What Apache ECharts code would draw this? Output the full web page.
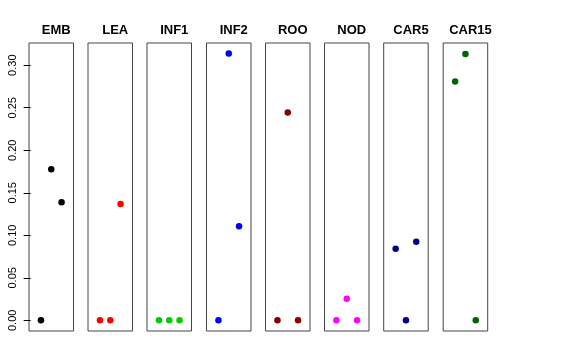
<!DOCTYPE html>
<html>
<head>
<meta charset="utf-8">
<script src="https://cdn.jsdelivr.net/npm/echarts@6/dist/echarts.min.js"></script>
<style>html,body{margin:0;padding:0;background:#fff;}#c{width:576px;height:360px;}</style>
</head>
<body>
<div id="c"></div>
<script>
const panels = ['EMB','LEA','INF1','INF2','ROO','NOD','CAR5','CAR15'];
const colors = ['#000000','#FF0000','#00CD00','#0000FF','#8B0000','#FF00FF','#00008B','#006400'];
const xPositions = [1, 2, 3];
const EMB   = [0.0, 0.1776, 0.1388];
const LEA   = [0.0, 0.0, 0.1369];
const INF1  = [0.0, 0.0, 0.0];
const INF2  = [0.0, 0.3137, 0.1106];
const ROO   = [0.0, 0.2443, 0.0];
const NOD   = [0.0, 0.0255, 0.0];
const CAR5  = [0.0843, 0.0, 0.0925];
const CAR15 = [0.2808, 0.3133, 0.0];
const values = [EMB, LEA, INF1, INF2, ROO, NOD, CAR5, CAR15];
const yTicks = [0, 0.05, 0.10, 0.15, 0.20, 0.25, 0.30];
const yTickLabels = ['0.00','0.05','0.10','0.15','0.20','0.25','0.30'];

const yMin = -0.01254, yMax = 0.3261;
const lefts = [29, 88, 147, 206.5, 265.5, 324.5, 383.7, 443.2];
const W = 44.5, TOP = 43, H = 288;

const grids = [], xAxes = [], yAxes = [], series = [], titles = [];
panels.forEach((p, i) => {
  grids.push({left: lefts[i], top: TOP, width: W, height: H, show: true,
    borderColor: '#444', borderWidth: 1, backgroundColor: 'transparent'});
  xAxes.push({type: 'value', gridIndex: i, min: -0.16, max: 4.16, show: false});
  const first = i === 0;
  yAxes.push({type: 'value', gridIndex: i, min: yMin, max: yMax,
    show: first,
    axisLine: {show: false},
    splitLine: {show: false},
    axisTick: first ? {show: true, length: 7, inside: false, customValues: yTicks,
      lineStyle: {color: '#000', width: 1}} : {show: false},
    axisLabel: first ? {show: true, rotate: 90, margin: 11, customValues: yTicks,
      formatter: v => yTickLabels[yTicks.findIndex(t => Math.abs(t - v) < 1e-9)],
      fontFamily: 'Liberation Sans, Arial, sans-serif', fontSize: 11, color: '#000'} : {show: false}
  });
  series.push({type: 'scatter', xAxisIndex: i, yAxisIndex: i,
    symbol: 'circle', symbolSize: 6.5,
    itemStyle: {color: colors[i], opacity: 1},
    data: xPositions.map((x, k) => [x, values[i][k]]),
    silent: true});
  titles.push({text: p, left: lefts[i] + W / 2, top: 19, textAlign: 'center',
    textStyle: {fontFamily: 'Liberation Sans, Arial, sans-serif', fontWeight: 'bold', fontSize: 13, color: '#000'}});
});

const chart = echarts.init(document.getElementById('c'), null, {renderer: 'canvas'});
chart.setOption({
  animation: false,
  backgroundColor: '#fff',
  title: titles,
  grid: grids,
  xAxis: xAxes,
  yAxis: yAxes,
  series: series
});
</script>
</body>
</html>
